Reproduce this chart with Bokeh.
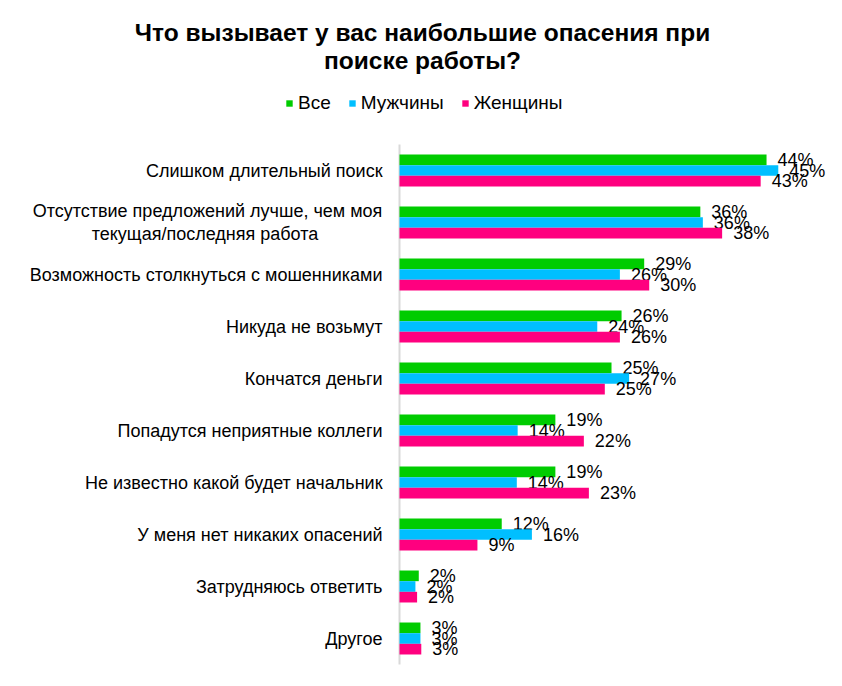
from bokeh.plotting import figure
from bokeh.models import ColumnDataSource, Range1d, Legend, LegendItem, Label
from bokeh.transform import dodge
from bokeh.core.properties import value
from bokeh.embed import file_html
from bokeh.resources import INLINE

categories = [
    "Слишком длительный поиск",
    "Отсутствие предложений лучше, чем моя\nтекущая/последняя  работа",
    "Возможность столкнуться с мошенниками",
    "Никуда не возьмут",
    "Кончатся деньги",
    "Попадутся неприятные коллеги",
    "Не известно какой будет начальник",
    "У меня нет никаких опасений",
    "Затрудняюсь ответить",
    "Другое",
]
series = ["Все", "Мужчины", "Женщины"]
vse = [43.8, 35.9, 29.2, 26.5, 25.3, 18.6, 18.6, 12.2, 2.3, 2.5]
muzh = [45.2, 36.2, 26.3, 23.6, 27.4, 14.1, 14.0, 15.8, 1.9, 2.5]
zhen = [43.1, 38.5, 29.8, 26.3, 24.5, 22.0, 22.6, 9.3, 2.1, 2.6]
lab_vse = [44, 36, 29, 26, 25, 19, 19, 12, 2, 3]
lab_muzh = [45, 36, 26, 24, 27, 14, 14, 16, 2, 3]
lab_zhen = [43, 38, 30, 26, 25, 22, 23, 9, 2, 3]
colors = ["#00CC00", "#00BFFF", "#FF007F"]
title_lines = ["Что вызывает у вас наибольшие опасения при", "поиске работы?"]

FONT = "Liberation Sans"
W, H = 826, 670
X0 = 399            # pixel position of zero
PX_X = 8.38         # pixels per percent
PX_Y = 52.0         # pixels per category
Y_BOTTOM = 664      # pixel bottom of last category band

n = len(categories)
ypos = [n - 1 - i for i in range(n)]
multi = ["\n" in c for c in categories]

src = ColumnDataSource(dict(
    cat=categories, y=ypos,
    vse=vse, muzh=muzh, zhen=zhen,
    l_vse=[f"{v}%" for v in lab_vse],
    l_muzh=[f"{v}%" for v in lab_muzh],
    l_zhen=[f"{v}%" for v in lab_zhen],
    zero=[0] * n,
    align=["center" if m else "right" for m in multi],
    xoff=[-192 if m else -17 for m in multi],
))

x_start = -X0 / PX_X
x_end = (W - X0) / PX_X
y_top = Y_BOTTOM / PX_Y - 0.5
y_bot = -0.5 - (H - Y_BOTTOM) / PX_Y

p = figure(
    width=W, height=H,
    x_range=Range1d(x_start, x_end), y_range=Range1d(y_bot, y_top),
    output_backend="svg", toolbar_location=None,
    min_border=0, min_border_left=0, min_border_right=0,
    min_border_top=0, min_border_bottom=0,
)
p.outline_line_color = None
p.grid.visible = False
p.axis.visible = False

# vertical axis line
p.segment(x0=[0], x1=[0], y0=[-0.5], y1=[n - 0.5], line_color="#d9d9d9", line_width=2)

h = 0.205
offs = [h, 0.0, -h]
cols = ["vse", "muzh", "zhen"]
lcols = ["l_vse", "l_muzh", "l_zhen"]
renderers = []
for c, lc, off, colr in zip(cols, lcols, offs, colors):
    r = p.hbar(y=dodge("y", off), left=0, right=c, height=h,
               source=src, fill_color=colr, line_color=None)
    renderers.append(r)
    p.text(x=c, y=dodge("y", off), text=lc, source=src,
           x_offset=11, text_baseline="middle", text_align="left",
           text_font=value(FONT), text_font_size="18px", text_color="black")

# category labels
p.text(x="zero", y="y", text="cat", source=src, x_offset="xoff",
       text_align="align", text_baseline="middle",
       text_font=value(FONT), text_font_size="18px", text_color="black",
       text_line_height=1.15)

legend = Legend(
    items=[LegendItem(label=s, renderers=[r]) for s, r in zip(series, renderers)],
    orientation="horizontal", location=(285, 556),
    glyph_width=8, glyph_height=8, label_standoff=5, spacing=17,
    padding=0, margin=0, border_line_color=None, background_fill_alpha=0,
    label_text_font=FONT, label_text_font_size="19px", label_text_color="black",
)
p.add_layout(legend, "center")

for txt, py in zip(title_lines, [32, 60]):
    p.add_layout(Label(x=(422 - X0) / PX_X, y=(Y_BOTTOM - py) / PX_Y - 0.5, text=txt,
                       text_align="center", text_baseline="middle",
                       text_font=FONT, text_font_size="24.5px", text_font_style="bold",
                       text_color="black"))

open("out.html", "w").write(file_html(p, INLINE))
